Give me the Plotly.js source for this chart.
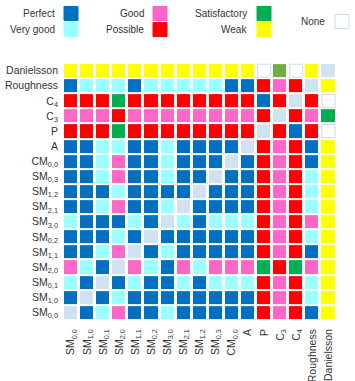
<!DOCTYPE html>
<html>
<head>
<meta charset="utf-8">
<script src="https://cdn.plot.ly/plotly-3.0.1.min.js"></script>
<style>html,body{margin:0;padding:0;background:#fff;}#chart{width:355px;height:381px;}</style>
</head>
<body>
<div id="chart"></div>
<script>
// Categories (columns left->right, rows bottom->top)
const categories = ['SM<sub>0,0</sub>','SM<sub>1,0</sub>','SM<sub>0,1</sub>','SM<sub>2,0</sub>','SM<sub>1,1</sub>','SM<sub>0,2</sub>','SM<sub>3,0</sub>','SM<sub>2,1</sub>','SM<sub>1,2</sub>','SM<sub>0,3</sub>','CM<sub>0,0</sub>','A','P','C<sub>3</sub>','C<sub>4</sub>','Roughness','Danielsson'];

// Rating codes: 0 None, 1 Weak, 2 Satisfactory, 3 Possible, 4 Good, 5 Very good, 6 Perfect, 7 self, 8 satisfactory (alt)
const rowDanielsson = [1,1,1,1,1,1,1,1,1,1,1,1,0,8,0,1,7];
const rowRoughness  = [6,5,5,5,6,5,5,5,5,5,6,6,3,4,3,7,1];
const rowC4         = [3,3,3,2,3,3,3,3,3,3,3,3,6,3,7,3,0];
const rowC3         = [4,4,4,3,4,4,4,4,4,4,4,4,3,7,3,4,2];
const rowP          = [3,3,3,2,3,3,3,3,3,3,3,3,7,3,6,3,0];
const rowA          = [6,6,5,5,6,6,5,6,6,6,6,7,3,4,3,6,1];
const rowCM00       = [6,6,5,4,6,6,5,6,6,6,7,6,3,4,3,6,1];
const rowSM03       = [6,6,5,4,6,6,5,6,6,7,6,6,3,4,3,5,1];
const rowSM12       = [6,6,6,5,6,6,6,6,7,6,6,6,3,4,3,5,1];
const rowSM21       = [6,6,5,4,6,6,5,7,6,6,6,6,3,4,3,5,1];
const rowSM30       = [5,6,6,6,5,6,7,5,6,5,5,5,3,4,3,4,1];
const rowSM02       = [6,6,6,5,6,7,6,6,6,6,6,6,3,4,3,5,1];
const rowSM11       = [6,6,5,4,7,6,5,6,6,6,6,6,3,4,3,6,1];
const rowSM20       = [4,5,6,7,4,5,6,4,5,4,4,4,2,3,2,4,1];
const rowSM01       = [5,6,7,6,5,6,6,5,6,5,5,5,3,4,3,5,1];
const rowSM10       = [6,7,6,5,6,6,6,6,6,6,6,6,3,4,3,5,1];
const rowSM00       = [7,6,5,4,6,6,5,6,6,6,6,6,3,4,3,6,1];

// bottom -> top, matching categories order
const rows = [rowSM00,rowSM10,rowSM01,rowSM20,rowSM11,rowSM02,rowSM30,rowSM21,rowSM12,rowSM03,rowCM00,rowA,rowP,rowC3,rowC4,rowRoughness,rowDanielsson];

const legendLabels = ['Perfect','Very good','Good','Possible','Satisfactory','Weak','None'];
const legendCodes  = [6,5,4,3,2,1,0];

const codeColors = ['#FFFFFF','#FFFF00','#00B050','#FF0000','#FF66CC','#99FFFF','#0070C0','#D0E1F2','#70AD47'];

const nC = codeColors.length;
const colorscale = [];
codeColors.forEach((c,k)=>{ colorscale.push([k/nC,c]); colorscale.push([(k+1)/nC,c]); });

const heat = {
  type:'heatmap', x:categories, y:categories, z:rows,
  zmin:-0.5, zmax:nC-0.5, colorscale:colorscale, showscale:false,
  xgap:3, ygap:2, hoverinfo:'skip'
};

// "None" cells outlined
const nx=[], ny=[];
rows.forEach((r,i)=>r.forEach((v,j)=>{ if(v===0){ nx.push(categories[j]); ny.push(categories[i]); } }));
const noneTrace = {
  type:'scatter', mode:'markers', x:nx, y:ny, hoverinfo:'skip', showlegend:false,
  marker:{symbol:'square', size:13, color:'#FFFFFF', line:{color:'#C9DAEC', width:1}}
};

const W=355,H=381, L=63, R=4, T=49, B=61;
const pw=W-L-R, ph=H-T-B;
const px=(x)=>(x-L)/pw, py=(y)=>(H-B-y)/ph;

// legend layout (pixel positions)
const legPos = [
  {tx:57, ty:13.5, sx:64, sy:6.5},
  {tx:57, ty:29.5, sx:64, sy:22.5},
  {tx:146, ty:13.5, sx:153, sy:6.5},
  {tx:146, ty:29.5, sx:153, sy:22.5},
  {tx:249, ty:13.5, sx:257, sy:6.5},
  {tx:249, ty:29.5, sx:257, sy:22.5},
  {tx:327, ty:21, sx:335, sy:14.5}
];
const annotations=[], shapes=[];
legendLabels.forEach((lab,i)=>{
  const p=legPos[i];
  annotations.push({xref:'paper',yref:'paper',x:px(p.tx),y:py(p.ty),xanchor:'right',yanchor:'middle',
    text:lab,showarrow:false,font:{size:10,color:'#333',family:'Liberation Sans, Arial, sans-serif'}});
  const c=codeColors[legendCodes[i]];
  shapes.push({type:'rect',xref:'paper',yref:'paper',x0:px(p.sx),x1:px(p.sx+14),y0:py(p.sy+14),y1:py(p.sy),
    fillcolor:c,line:{color:legendCodes[i]===0?'#C9DAEC':c,width:1}});
});

const layout = {
  width:W, height:H, margin:{l:L,r:R,t:T,b:B},
  paper_bgcolor:'#fff', plot_bgcolor:'#fff',
  font:{family:'Liberation Sans, Arial, sans-serif', size:10.5, color:'#333'},
  xaxis:{type:'category', showgrid:false, zeroline:false, showline:false, ticks:'', tickangle:-90, fixedrange:true, ticklabelstandoff:6},
  yaxis:{type:'category', showgrid:false, zeroline:false, showline:false, ticks:'', fixedrange:true, ticklabelstandoff:4},
  showlegend:false, annotations:annotations, shapes:shapes
};

Plotly.newPlot('chart',[heat,noneTrace],layout,{displayModeBar:false,staticPlot:true});
</script>
</body>
</html>
